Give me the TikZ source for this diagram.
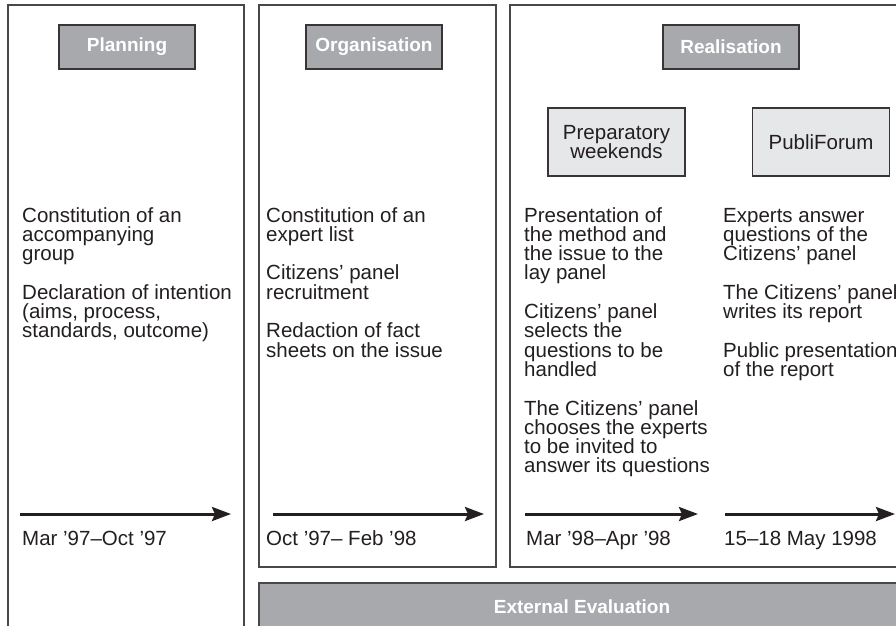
\documentclass[tikz,border=0pt]{standalone}
\usepackage{fontspec}
\setmainfont{Liberation Sans}
\usetikzlibrary{arrows.meta}

\definecolor{ink}{HTML}{231F20}
\definecolor{frame}{HTML}{48484A}
\definecolor{headfill}{HTML}{A7A9AC}
\definecolor{subfill}{HTML}{E6E7E8}

\newcommand\bodysize{\fontsize{20.5}{19.3}\selectfont}
\newcommand\headsize{\fontsize{19}{19}\selectfont\bfseries}

\tikzset{
  panel/.style={draw=frame, line width=1.4pt},
  headbox/.style={draw=ink!90, fill=headfill, line width=1.4pt,
    minimum width=136pt, minimum height=44pt, inner sep=0pt,
    text=white, font=\headsize},
  subbox/.style={draw=ink!90, fill=subfill, line width=1.4pt,
    minimum width=137pt, minimum height=68pt, inner sep=0pt,
    text=ink, align=center, font=\bodysize},
  colText/.style={anchor=base west, inner sep=0pt, text=ink},
  dateText/.style={anchor=base west, inner sep=0pt, text=ink, font=\bodysize},
  timeline/.style={draw=ink, line width=3pt,
    -{Stealth[length=19pt, width=14pt, inset=3pt]}},
}

\newcommand\column[2]{\parbox[t]{#1}{\raggedright\bodysize #2}}

\begin{document}
\begin{tikzpicture}[x=1pt, y=-1pt]
  \useasboundingbox (0,0) rectangle (896,625);
  \clip (0,0) rectangle (896,625);
  \fill[white] (0,0) rectangle (896,625);

  % phase panels
  \draw[panel] (8,5) rectangle (244,660);
  \draw[panel] (259,5) rectangle (496,567);
  \draw[panel] (510,5) rectangle (920,567);

  % evaluation bar along the bottom
  \filldraw[panel, fill=headfill] (259,583) rectangle (920,660);
  \node[text=white, font=\headsize, inner sep=0pt] (evalTitle) at (582,607) {External Evaluation};

  % phase headings
  \node[headbox] (planning) at (127,47) {Planning};
  \node[headbox] (organisation) at (374,47) {Organisation};
  \node[headbox] (realisation) at (731,47) {Realisation};

  % realisation sub-steps
  \node[subbox] (prep) at (616.5,142) {Preparatory\\weekends};
  \node[subbox] (forum) at (821,142) {PubliForum};

  % activities
  \node[colText] (planText) at (22,222) {\column{225pt}{%
    Constitution of an\\accompanying\\group\\[19.3pt]%
    Declaration of intention\\(aims, process,\\standards, outcome)}};
  \node[colText] (orgText) at (266,222) {\column{225pt}{%
    Constitution of an\\expert list\\[19.3pt]%
    Citizens’ panel\\recruitment\\[19.3pt]%
    Redaction of fact\\sheets on the issue}};
  \node[colText] (prepText) at (524,222) {\column{200pt}{%
    Presentation of\\the method and\\the issue to the\\lay panel\\[19.3pt]%
    Citizens’ panel\\selects the\\questions to be\\handled\\[19.3pt]%
    The Citizens’ panel\\chooses the experts\\to be invited to\\answer its questions}};
  \node[colText] (forumText) at (723,222) {\column{200pt}{%
    Experts answer\\questions of the\\Citizens’ panel\\[19.3pt]%
    The Citizens’ panel\\writes its report\\[19.3pt]%
    Public presentation\\of the report}};

  % time lines
  \coordinate (t1a) at (20,514);  \coordinate (t1b) at (231,514);
  \coordinate (t2a) at (273,514); \coordinate (t2b) at (484,514);
  \coordinate (t3a) at (525,514); \coordinate (t3b) at (698,514);
  \coordinate (t4a) at (725,514); \coordinate (t4b) at (895,514);
  \draw[timeline] (t1a) -- (t1b);
  \draw[timeline] (t2a) -- (t2b);
  \draw[timeline] (t3a) -- (t3b);
  \draw[timeline] (t4a) -- (t4b);

  \node[dateText] (d1) at (22,545) {Mar ’97–Oct ’97};
  \node[dateText] (d2) at (266,545) {Oct ’97– Feb ’98};
  \node[dateText] (d3) at (526,545) {Mar ’98–Apr ’98};
  \node[dateText] (d4) at (724,545) {15–18 May 1998};
\end{tikzpicture}
\end{document}
